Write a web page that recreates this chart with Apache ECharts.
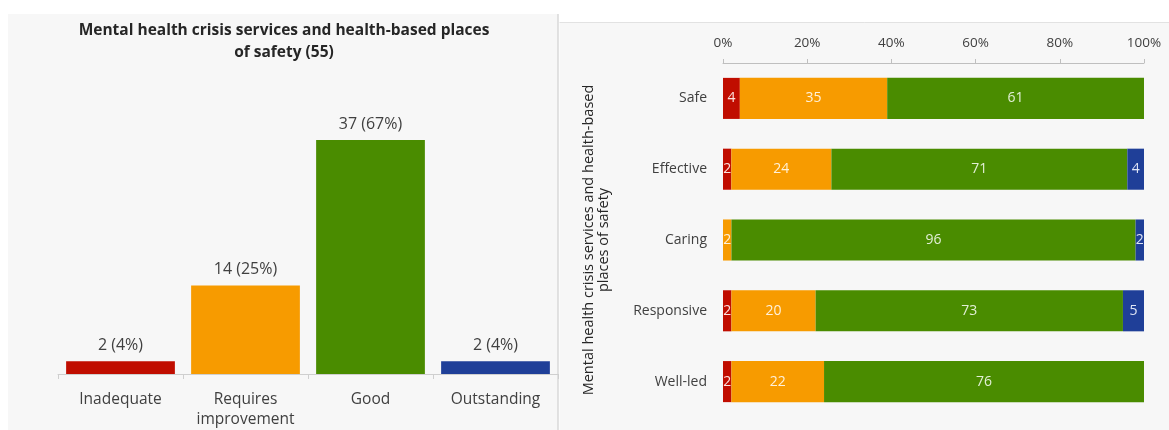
<!DOCTYPE html>
<html>
<head>
<meta charset="utf-8">
<script src="https://cdn.jsdelivr.net/npm/echarts@6/dist/echarts.min.js"></script>
<style>
html,body{margin:0;padding:0;background:#ffffff;}
#chart{width:1169px;height:430px;}
</style>
</head>
<body>
<div id="chart"></div>
<script>
// Left chart: overall ratings
const ratingCategories = ['Inadequate', 'Requires\nimprovement', 'Good', 'Outstanding'];
const ratingCounts = [2, 14, 37, 2];
const ratingPercents = [4, 25, 67, 4];
const totalServices = 55;

// Right chart: key questions (percent of services)
const keyQuestions = ['Safe', 'Effective', 'Caring', 'Responsive', 'Well-led'];
const inadequateVals = [4, 2, 0, 2, 2];
const requiresVals = [35, 24, 2, 20, 22];
const goodVals = [61, 71, 96, 73, 76];
const outstandingVals = [0, 4, 2, 5, 0];
const percentTicks = [0, 20, 40, 60, 80, 100];

const colors = ['#c00d00', '#f79b00', '#4a8c00', '#1f3f98'];
const labelColors = ['#fbe3df', '#fff1d9', '#e2efd5', '#dfe5f5'];
const FONT = '"Open Sans", "Liberation Sans", sans-serif';

const chart = echarts.init(document.getElementById('chart'));

const rowSums = keyQuestions.map((_, i) =>
  inadequateVals[i] + requiresVals[i] + goodVals[i] + outstandingVals[i]);

const stackSets = [inadequateVals, requiresVals, goodVals, outstandingVals];
const stackNames = ['Inadequate', 'Requires improvement', 'Good', 'Outstanding'];

const stackSeries = stackSets.map((vals, k) => ({
  type: 'bar',
  name: stackNames[k],
  xAxisIndex: 1,
  yAxisIndex: 1,
  stack: 'kq',
  barCategoryGap: '42%',
  itemStyle: { color: colors[k] },
  label: {
    show: true,
    position: 'inside',
    color: labelColors[k],
    fontFamily: FONT,
    fontSize: 14,
    formatter: p => vals[p.dataIndex] > 0 ? String(vals[p.dataIndex]) : ''
  },
  data: vals.map((v, i) => v / rowSums[i] * 100)
}));

const option = {
  animation: false,
  backgroundColor: '#ffffff',
  graphic: [
    { type: 'rect', z: -10, shape: { x: 8, y: 14, width: 550, height: 416 }, style: { fill: '#f7f7f7' } },
    { type: 'line', z: -9, shape: { x1: 558, y1: 14, x2: 558, y2: 430 }, style: { stroke: '#d9d9d9', lineWidth: 1.5 } },
    { type: 'rect', z: -10, shape: { x: 559.5, y: 22, width: 610, height: 408 }, style: { fill: '#f7f7f7' } },
    { type: 'line', z: -9, shape: { x1: 559.5, y1: 22.5, x2: 1169, y2: 22.5 }, style: { stroke: '#e2e2e2', lineWidth: 1 } },
    {
      type: 'text', z: 10, x: 284, y: 20,
      style: {
        text: 'Mental health crisis services and health-based places\nof safety (' + totalServices + ')',
        textAlign: 'center', textVerticalAlign: 'top',
        font: 'bold 15.5px ' + FONT, fill: '#262626', lineHeight: 22
      }
    }
  ],
  grid: [
    { left: 58, right: 611, top: 121, bottom: 56 },
    { left: 723, right: 25, top: 63, height: 354 }
  ],
  xAxis: [
    {
      type: 'category', gridIndex: 0, data: ratingCategories,
      axisLine: { lineStyle: { color: '#cfcfcf' } },
      axisTick: { show: true, length: 5, lineStyle: { color: '#cfcfcf' } },
      axisLabel: { interval: 0, hideOverlap: false, color: '#404040', fontFamily: FONT, fontSize: 15.5, margin: 16, lineHeight: 20 }
    },
    {
      type: 'value', gridIndex: 1, position: 'top', min: 0, max: 100, interval: 20,
      axisLine: { show: true, lineStyle: { color: '#bfbfbf' } },
      axisTick: { show: true, length: 4, lineStyle: { color: '#bfbfbf' } },
      splitLine: { show: false },
      axisLabel: { color: '#404040', fontFamily: FONT, fontSize: 13.5, margin: 13,
        formatter: v => percentTicks.includes(v) ? v + '%' : '' }
    }
  ],
  yAxis: [
    { type: 'value', gridIndex: 0, min: 0, max: 40, show: false },
    {
      type: 'category', gridIndex: 1, data: keyQuestions, inverse: true,
      axisLine: { show: false }, axisTick: { show: false },
      axisLabel: { interval: 0, color: '#404040', fontFamily: FONT, fontSize: 14, margin: 16 },
      name: 'Mental health crisis services and health-based\nplaces of safety',
      nameLocation: 'middle', nameRotate: 90, nameGap: 112,
      nameTextStyle: { color: '#262626', fontFamily: FONT, fontSize: 14.5, lineHeight: 15 }
    }
  ],
  series: [
    {
      type: 'bar', xAxisIndex: 0, yAxisIndex: 0,
      barCategoryGap: '13%',
      data: ratingCounts.map((v, i) => ({ value: v, itemStyle: { color: colors[i] } })),
      label: {
        show: true, position: 'top', distance: 8,
        color: '#404040', fontFamily: FONT, fontSize: 16,
        formatter: p => ratingCounts[p.dataIndex] + ' (' + ratingPercents[p.dataIndex] + '%)'
      }
    },
    ...stackSeries
  ]
};

chart.setOption(option);
</script>
</body>
</html>
